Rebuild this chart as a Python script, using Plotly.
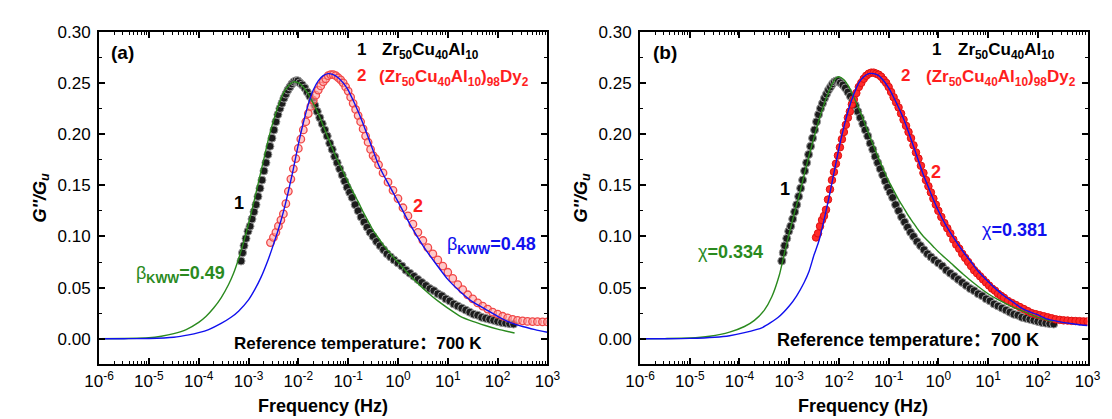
import plotly.graph_objects as go

# ---------------- data (log10 frequency, G''/Gu) ----------------
black_logf = [-3.15, -3.12, -3.09, -3.05, -3.01, -2.97, -2.93, -2.89, -2.85, -2.81, -2.77, -2.73, -2.69, -2.65,
              -2.61, -2.57, -2.53, -2.49, -2.45, -2.41, -2.37, -2.33, -2.29, -2.25, -2.21, -2.17, -2.13, -2.09,
              -2.05, -2.01, -1.97, -1.92, -1.87, -1.82, -1.77, -1.72, -1.67, -1.62, -1.57, -1.52, -1.47, -1.42,
              -1.37, -1.32, -1.27, -1.22, -1.17, -1.12, -1.07, -1.02, -0.97, -0.92, -0.86, -0.80, -0.74, -0.68,
              -0.62, -0.56, -0.50, -0.43, -0.36, -0.29, -0.22, -0.15, -0.08, 0.00, 0.08, 0.16, 0.24, 0.32, 0.40,
              0.48, 0.56, 0.64, 0.72, 0.80, 0.88, 0.96, 1.04, 1.12, 1.20, 1.28, 1.36, 1.44, 1.52, 1.60, 1.68,
              1.76, 1.84, 1.92, 2.00, 2.08, 2.16, 2.24, 2.32]
black_g = [0.076, 0.084, 0.091, 0.098, 0.105, 0.110, 0.117, 0.124, 0.131, 0.139, 0.147, 0.155, 0.164, 0.172,
           0.180, 0.188, 0.196, 0.204, 0.212, 0.219, 0.225, 0.230, 0.235, 0.239, 0.243, 0.246, 0.249, 0.251,
           0.252, 0.252, 0.250, 0.248, 0.245, 0.241, 0.237, 0.233, 0.228, 0.222, 0.216, 0.210, 0.204, 0.198,
           0.191, 0.185, 0.178, 0.172, 0.166, 0.160, 0.154, 0.148, 0.143, 0.138, 0.131, 0.125, 0.119, 0.114,
           0.109, 0.104, 0.100, 0.095, 0.091, 0.087, 0.083, 0.080, 0.077, 0.074, 0.071, 0.067, 0.064, 0.061,
           0.058, 0.055, 0.052, 0.049, 0.047, 0.044, 0.042, 0.039, 0.037, 0.034, 0.032, 0.030, 0.028, 0.026,
           0.024, 0.023, 0.021, 0.020, 0.019, 0.018, 0.017, 0.016, 0.0153, 0.0148, 0.0144]

red_a_logf = [-2.56, -2.50, -2.45, -2.40, -2.35, -2.30, -2.25, -2.20, -2.15, -2.10, -2.05, -2.00, -1.95, -1.90,
              -1.85, -1.80, -1.75, -1.70, -1.65, -1.60, -1.55, -1.50, -1.45, -1.40, -1.35, -1.30, -1.25, -1.20,
              -1.15, -1.10, -1.05, -1.00, -0.95, -0.90, -0.85, -0.80, -0.75, -0.70, -0.65, -0.60, -0.55, -0.50,
              -0.45, -0.39, -0.30, -0.20, -0.10, 0.00, 0.10, 0.20, 0.30, 0.40, 0.50, 0.60, 0.70, 0.80, 0.90,
              1.00, 1.10, 1.20, 1.30, 1.40, 1.50, 1.60, 1.70, 1.80, 1.90, 2.00, 2.10, 2.20, 2.30, 2.40, 2.50,
              2.60, 2.70, 2.80, 2.90, 3.00]
red_a_g = [0.094, 0.099, 0.104, 0.110, 0.116, 0.122, 0.132, 0.144, 0.156, 0.166, 0.176, 0.186, 0.195, 0.204,
           0.212, 0.220, 0.227, 0.233, 0.238, 0.243, 0.247, 0.251, 0.254, 0.257, 0.258, 0.258, 0.257, 0.255,
           0.253, 0.250, 0.246, 0.242, 0.236, 0.230, 0.224, 0.218, 0.212, 0.205, 0.198, 0.192, 0.185, 0.179,
           0.176, 0.170, 0.162, 0.153, 0.145, 0.137, 0.128, 0.120, 0.112, 0.104, 0.096, 0.089, 0.083, 0.077,
           0.071, 0.065, 0.059, 0.053, 0.048, 0.043, 0.039, 0.035, 0.032, 0.029, 0.026, 0.024, 0.022, 0.0205,
           0.019, 0.018, 0.0175, 0.017, 0.0168, 0.0167, 0.0166, 0.0165]

red_b_logf = [-2.46, -2.42, -2.38, -2.34, -2.30, -2.26, -2.22, -2.18, -2.14, -2.10, -2.06, -2.02, -1.98, -1.94,
              -1.90, -1.86, -1.82, -1.78, -1.74, -1.70, -1.65, -1.60, -1.55, -1.50, -1.45, -1.40, -1.35, -1.30,
              -1.25, -1.20, -1.15, -1.10, -1.05, -1.00, -0.95, -0.90, -0.85, -0.80, -0.75, -0.70, -0.65, -0.60,
              -0.55, -0.50, -0.45, -0.40, -0.35, -0.30, -0.25, -0.20, -0.15, -0.10, -0.05, 0.00, 0.06, 0.12,
              0.18, 0.24, 0.30, 0.36, 0.42, 0.48, 0.54, 0.60, 0.66, 0.72, 0.78, 0.84, 0.90, 0.96, 1.02, 1.08,
              1.14, 1.20, 1.26, 1.32, 1.40, 1.48, 1.56, 1.64, 1.72, 1.80, 1.88, 1.96, 2.04, 2.12, 2.20, 2.28,
              2.36, 2.44, 2.52, 2.60, 2.68, 2.76, 2.84, 2.92, 3.00]
red_b_g = [0.099, 0.103, 0.110, 0.116, 0.120, 0.126, 0.136, 0.146, 0.155, 0.163, 0.171, 0.179, 0.187, 0.195,
           0.202, 0.209, 0.216, 0.222, 0.229, 0.234, 0.240, 0.246, 0.250, 0.254, 0.257, 0.259, 0.260, 0.260,
           0.259, 0.258, 0.256, 0.253, 0.250, 0.246, 0.241, 0.236, 0.231, 0.226, 0.220, 0.214, 0.208, 0.202,
           0.196, 0.189, 0.182, 0.176, 0.169, 0.162, 0.155, 0.149, 0.143, 0.137, 0.131, 0.125, 0.119, 0.113,
           0.108, 0.103, 0.097, 0.092, 0.088, 0.083, 0.079, 0.075, 0.071, 0.067, 0.064, 0.061, 0.058, 0.055,
           0.052, 0.049, 0.047, 0.044, 0.042, 0.040, 0.037, 0.035, 0.033, 0.031, 0.029, 0.027, 0.025, 0.024,
           0.023, 0.022, 0.021, 0.020, 0.019, 0.0185, 0.018, 0.0178, 0.0175, 0.0173, 0.0172, 0.017, 0.017]

green_a_logf = [-6.0, -5.5, -5.0, -4.75, -4.5, -4.25, -4.0, -3.85, -3.7, -3.55, -3.4, -3.3, -3.2, -3.1, -3.0,
                -2.9, -2.8, -2.7, -2.6, -2.5, -2.4, -2.3, -2.2, -2.1, -2.0, -1.9, -1.8, -1.7, -1.6, -1.5, -1.4,
                -1.3, -1.2, -1.1, -1.0, -0.9, -0.8, -0.7, -0.6, -0.5, -0.4, -0.3, -0.2, -0.1, 0.0, 0.2, 0.4,
                0.6, 0.8, 1.0, 1.25, 1.5, 1.75, 2.0, 2.34]
green_a_g = [0.0, 0.0003, 0.001, 0.0025, 0.005, 0.009, 0.016, 0.022, 0.030, 0.040, 0.053, 0.064, 0.078, 0.094,
             0.112, 0.132, 0.153, 0.174, 0.195, 0.213, 0.228, 0.240, 0.247, 0.251, 0.250, 0.246, 0.239, 0.230,
             0.220, 0.208, 0.196, 0.184, 0.173, 0.163, 0.153, 0.143, 0.134, 0.124, 0.115, 0.106, 0.099, 0.092,
             0.086, 0.080, 0.075, 0.064, 0.054, 0.045, 0.037, 0.030, 0.022, 0.017, 0.013, 0.0095, 0.0057]

blue_a_logf = [-6.0, -5.5, -5.0, -4.5, -4.2, -4.0, -3.8, -3.55, -3.35, -3.2, -3.0, -2.875, -2.75, -2.6, -2.5,
               -2.4, -2.3, -2.2, -2.1, -2.0, -1.9, -1.8, -1.7, -1.6, -1.5, -1.4, -1.3, -1.2, -1.1, -1.0, -0.9,
               -0.8, -0.7, -0.6, -0.5, -0.4, -0.3, -0.2, -0.1, 0.0, 0.25, 0.5, 0.75, 1.0, 1.25, 1.5, 1.75, 2.0,
               2.25, 2.5, 2.75, 3.0]
blue_a_g = [0.0, 0.0001, 0.0003, 0.0015, 0.0038, 0.006, 0.009, 0.015, 0.021, 0.027, 0.038, 0.048, 0.060, 0.078,
            0.092, 0.107, 0.124, 0.144, 0.166, 0.190, 0.211, 0.229, 0.243, 0.252, 0.257, 0.259, 0.258, 0.255,
            0.250, 0.243, 0.233, 0.222, 0.210, 0.197, 0.184, 0.171, 0.161, 0.152, 0.143, 0.134, 0.111, 0.091,
            0.074, 0.058, 0.046, 0.036, 0.029, 0.022, 0.016, 0.012, 0.009, 0.0064]

green_b_logf = [-6.0, -5.5, -5.0, -4.6, -4.2, -3.9, -3.7, -3.5, -3.35, -3.2, -3.1, -3.0, -2.9, -2.8, -2.7, -2.6,
                -2.5, -2.4, -2.3, -2.2, -2.1, -2.05, -2.0, -1.9, -1.8, -1.7, -1.6, -1.5, -1.4, -1.3, -1.2, -1.1,
                -1.0, -0.9, -0.8, -0.7, -0.6, -0.5, -0.4, -0.3, -0.2, -0.1, 0.0, 0.25, 0.5, 0.75, 1.0, 1.25, 1.5,
                1.75, 2.0, 2.3]
green_b_g = [0.0, 0.0002, 0.0007, 0.0025, 0.0065, 0.012, 0.018, 0.028, 0.041, 0.062, 0.083, 0.103, 0.122, 0.140,
             0.160, 0.179, 0.197, 0.214, 0.229, 0.242, 0.252, 0.255, 0.256, 0.253, 0.246, 0.236, 0.225, 0.213,
             0.200, 0.188, 0.176, 0.165, 0.154, 0.145, 0.136, 0.128, 0.120, 0.113, 0.106, 0.100, 0.095, 0.090,
             0.085, 0.074, 0.063, 0.053, 0.044, 0.037, 0.031, 0.026, 0.021, 0.017]

blue_b_logf = [-6.0, -5.5, -5.0, -4.5, -4.2, -3.9, -3.54, -3.22, -3.0, -2.85, -2.7, -2.6, -2.5, -2.4, -2.3, -2.2,
               -2.1, -2.0, -1.9, -1.8, -1.7, -1.6, -1.5, -1.4, -1.3, -1.2, -1.1, -1.0, -0.9, -0.8, -0.7, -0.6,
               -0.5, -0.4, -0.3, -0.2, -0.1, 0.0, 0.15, 0.33, 0.5, 0.66, 0.8, 1.0, 1.15, 1.32, 1.5, 1.64, 1.8,
               1.97, 2.15, 2.3, 2.5, 2.65, 2.8, 3.0]
blue_b_g = [0.0, 0.0001, 0.0004, 0.0015, 0.003, 0.006, 0.011, 0.021, 0.032, 0.042, 0.055, 0.066, 0.082, 0.096,
            0.116, 0.138, 0.162, 0.186, 0.207, 0.225, 0.239, 0.250, 0.256, 0.259, 0.259, 0.257, 0.252, 0.245,
            0.236, 0.226, 0.215, 0.202, 0.188, 0.174, 0.160, 0.148, 0.136, 0.125, 0.111, 0.097, 0.085, 0.075,
            0.066, 0.056, 0.049, 0.042, 0.036, 0.031, 0.027, 0.024, 0.020, 0.018, 0.016, 0.015, 0.014, 0.013]

tick_exponents = [-6, -5, -4, -3, -2, -1, 0, 1, 2, 3]
y_ticks = [0.00, 0.05, 0.10, 0.15, 0.20, 0.25, 0.30]

# ---------------- styling ----------------
W, H = 1112, 419
FONT = "Liberation Sans, Arial, Noto Sans CJK SC, sans-serif"
GREEN = "#2a8a1e"
BLUE = "#1010ee"
RED = "#ff1e1e"


def hz(logs):
    return [10 ** v for v in logs]


fig = go.Figure()

BLACK_MK = dict(size=8, color="#1c1c1c", line=dict(color="#9a9a9a", width=1))

# panel (a)
fig.add_trace(go.Scatter(x=hz(black_logf), y=black_g, mode="markers", xaxis="x", yaxis="y", marker=BLACK_MK))
fig.add_trace(go.Scatter(x=hz(red_a_logf), y=red_a_g, mode="markers", xaxis="x", yaxis="y",
                         marker=dict(size=7.5, color="rgba(255,165,165,0.6)", line=dict(color="#f04848", width=1.3))))
fig.add_trace(go.Scatter(x=hz(green_a_logf), y=green_a_g, mode="lines", xaxis="x", yaxis="y",
                         line=dict(color=GREEN, width=1.4, shape="spline", smoothing=0.6)))
fig.add_trace(go.Scatter(x=hz(blue_a_logf), y=blue_a_g, mode="lines", xaxis="x", yaxis="y",
                         line=dict(color=BLUE, width=1.4, shape="spline", smoothing=0.6)))

# panel (b)
fig.add_trace(go.Scatter(x=hz(black_logf), y=black_g, mode="markers", xaxis="x2", yaxis="y2", marker=BLACK_MK))
fig.add_trace(go.Scatter(x=hz(red_b_logf), y=red_b_g, mode="markers", xaxis="x2", yaxis="y2",
                         marker=dict(size=7.5, color="#ff2a2a", line=dict(color="#e01010", width=1))))
fig.add_trace(go.Scatter(x=hz(green_b_logf), y=green_b_g, mode="lines", xaxis="x2", yaxis="y2",
                         line=dict(color=GREEN, width=1.4, shape="spline", smoothing=0.6)))
fig.add_trace(go.Scatter(x=hz(blue_b_logf), y=blue_b_g, mode="lines", xaxis="x2", yaxis="y2",
                         line=dict(color=BLUE, width=1.4, shape="spline", smoothing=0.6)))

xt_vals = [10.0 ** e for e in tick_exponents]
xt_text = ["10<sup>%d</sup>" % e for e in tick_exponents]

xcommon = dict(type="log", range=[-6, 3], tickvals=xt_vals, ticktext=xt_text, ticks="inside", ticklen=6,
               tickwidth=1.5, tickcolor="black", showline=True, linewidth=2, linecolor="black", mirror="ticks",
               showgrid=False, zeroline=False, tickfont=dict(family=FONT, size=17, color="black"),
               ticklabelstandoff=0,
               minor=dict(ticks="inside", ticklen=3, tickwidth=1, tickcolor="black", dtick="D1", showgrid=False))
ycommon = dict(range=[-0.025, 0.30], tickvals=y_ticks, ticktext=["%.2f" % v for v in y_ticks], ticks="inside",
               ticklen=6, tickwidth=1.5, tickcolor="black", showline=True, linewidth=2, linecolor="black",
               mirror="ticks", showgrid=False, zeroline=False, tickfont=dict(family=FONT, size=17, color="black"),
               ticklabelstandoff=3,
               minor=dict(ticks="inside", ticklen=3, tickwidth=1, tickcolor="black", dtick=0.025, showgrid=False))

ytop, ybot = 15, 355
fig.update_layout(
    width=W, height=H, margin=dict(l=0, r=0, t=0, b=0), showlegend=False,
    paper_bgcolor="white", plot_bgcolor="white",
    xaxis=dict(domain=[78 / W, 538 / W], anchor="y", **xcommon),
    yaxis=dict(domain=[1 - ybot / H, 1 - ytop / H], anchor="x", **ycommon),
    xaxis2=dict(domain=[633 / W, 1092 / W], anchor="y2", **xcommon),
    yaxis2=dict(domain=[1 - ybot / H, 1 - ytop / H], anchor="x2", **ycommon),
)


def ann(text, px, py, color="black", size=18, xanchor="left", angle=0):
    fig.add_annotation(text=text, x=px / W, y=1 - py / H, xref="paper", yref="paper", showarrow=False,
                       xanchor=xanchor, yanchor="middle", textangle=angle,
                       font=dict(family=FONT, size=size, color=color))


alloy1 = "<b>Zr<sub>50</sub>Cu<sub>40</sub>Al<sub>10</sub></b>"
alloy2 = "<b>(Zr<sub>50</sub>Cu<sub>40</sub>Al<sub>10</sub>)<sub>98</sub>Dy<sub>2</sub></b>"

# axis titles
for cx in (308, 862):
    ann("<b>Frequency (Hz)</b>", cx, 398, size=18, xanchor="center")
for cx in (18, 573):
    ann("<b><i>G''/G<sub>u</sub></i></b>", cx, 185, size=18, xanchor="center", angle=-90)

# panel (a) texts
ann("<b>(a)</b>", 88, 36, size=19)
ann("<b>1</b>", 347, 33, size=17, xanchor="center")
ann(alloy1, 366, 35, size=17)
ann("<b>2</b>", 347, 60, color=RED, size=17, xanchor="center")
ann(alloy2, 363, 62, color=RED, size=17)
ann("<b>1</b>", 222, 190, xanchor="center")
ann("<b>2</b>", 405, 193, color=RED, xanchor="center")
ann("β<sub><b>KWW</b></sub><b>=0.49</b>", 114, 263, color=GREEN)
ann("β<sub><b>KWW</b></sub><b>=0.48</b>", 433, 234, color=BLUE)
ann("<b>Reference temperature：700 K</b>", 214, 334, size=17)

# panel (b) texts
ann("<b>(b)</b>", 644, 36, size=19)
ann("<b>1</b>", 937, 33, size=17, xanchor="center")
ann(alloy1, 957, 35, size=17)
ann("<b>2</b>", 905, 60, color=RED, size=17, xanchor="center")
ann(alloy2, 924, 62, color=RED, size=17)
ann("<b>1</b>", 782, 176, xanchor="center")
ann("<b>2</b>", 937, 158, color=RED, xanchor="center")
ann("χ<b>=0.334</b>", 690, 240, color=GREEN)
ann("χ<b>=0.381</b>", 982, 218, color=BLUE)
ann("<b>Reference temperature：700 K</b>", 771, 330, size=18)

fig.write_html("out.html")
